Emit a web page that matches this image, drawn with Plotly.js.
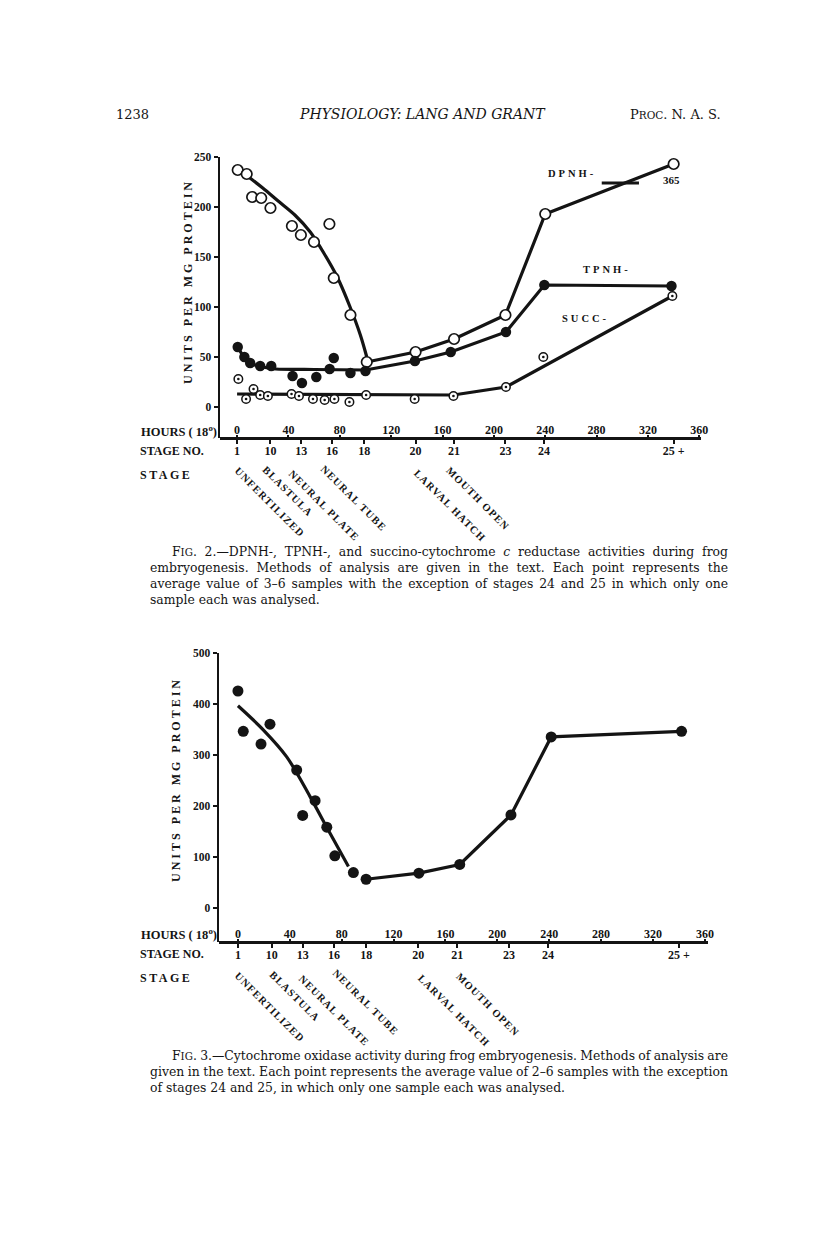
<!DOCTYPE html>
<html><head><meta charset="utf-8">
<script src="https://cdn.plot.ly/plotly-3.0.1.min.js"></script>
<style>html,body{margin:0;padding:0;background:#fff}</style>
</head><body><div id="chart" style="width:816px;height:1248px"></div>
<script>
// ---------- data ----------
const hourTicks = [0, 40, 80, 120, 160, 200, 240, 280, 320, 360];
const stageHours = [0, 26, 50, 74, 99, 139, 169, 209, 239, 340];
const stageNumbers = ['1', '10', '13', '16', '18', '20', '21', '23', '24', '25 +'];
const stageNames = ['UNFERTILIZED', 'BLASTULA', 'NEURAL PLATE', 'NEURAL TUBE', 'LARVAL HATCH', 'MOUTH OPEN'];

// Fig. 2
const dpnhHours  = [0.5, 7.5, 11.7, 18.8, 26, 42.7, 49.7, 59.9, 71.9, 75.3, 88.3, 101, 139, 169, 209, 240, 340];
const dpnhValues = [237, 233, 210, 209, 199, 181, 172, 165, 183, 129, 92, 45, 55, 68, 92, 193, 243];
const dpnhCurveHours  = [8, 20, 32, 45, 57, 68, 78, 88, 96, 101];
const dpnhCurveValues = [231, 219, 206, 192, 175, 153, 130, 100, 72, 50];
const dpnhSegHours  = [101, 139, 169, 209, 240, 340];
const dpnhSegValues = [45, 55, 68, 92, 193, 243];
const dpnhBreakHours  = [284, 313];
const dpnhBreakValues = [224, 224];

const tpnhHours  = [0.5, 5.7, 10.2, 18, 26.6, 43.2, 50.5, 61.7, 72.1, 75.3, 88.3, 100, 138.5, 166.4, 209.4, 239.3, 338.3];
const tpnhValues = [60, 50, 44, 41, 41, 31, 24, 30, 38, 49, 34, 36, 46, 55, 75, 122, 121];
const tpnhCurveHours  = [0.5, 6, 12, 20, 30, 60, 100];
const tpnhCurveValues = [60, 49, 43, 40, 38, 37.5, 37];
const tpnhSegHours  = [100, 138.5, 166.4, 209.4, 239.3, 338.3];
const tpnhSegValues = [37, 46, 55, 75, 122, 121];

const succHours  = [1, 7, 12.8, 18, 24, 42.4, 48.2, 59.1, 68.2, 75.8, 87.5, 100.5, 138.3, 168.5, 209.4, 238.5, 339];
const succValues = [28, 8, 18, 12, 11, 13, 11, 8, 7, 8, 5, 12, 8, 11, 20, 50, 111];
const succLineHours  = [0, 100, 168.5, 209.4, 339];
const succLineValues = [13, 12.5, 12, 20, 111];

// Fig. 3
const coxHours  = [0, 4.1, 17.8, 24.7, 45.3, 49.9, 59.5, 68.5, 74.7, 89, 98.8, 139.5, 171, 210.5, 241.5, 342];
const coxValues = [426, 347, 322, 361, 271, 182, 211, 159, 103, 70, 57, 69, 86, 183, 336, 347];
const coxCurveHours  = [0, 19.5, 37.6, 55.6, 71, 85.2];
const coxCurveValues = [397, 350, 297, 219, 147, 82];
const coxSegHours  = [98.8, 139.5, 171, 210.5, 241.5, 342];
const coxSegValues = [57, 69, 86, 183, 336, 347];

// ---------- style ----------
const INK = '#141414';
const SERIF = '"DejaVu Serif", "Liberation Serif", serif';
const BSERIF = '"Liberation Serif", "DejaVu Serif", serif';
const W = 816, H = 1248;
const LW = 3.2;

function lineTrace(x, y, xa, ya, shape) {
  return {x, y, xaxis: xa, yaxis: ya, type: 'scatter', mode: 'lines', hoverinfo: 'skip',
    line: {color: INK, width: LW, shape: shape || 'linear', smoothing: 0.9}, showlegend: false, cliponaxis: false};
}
function markerTrace(x, y, xa, ya, marker) {
  return {x, y, xaxis: xa, yaxis: ya, type: 'scatter', mode: 'markers', showlegend: false,
    marker, cliponaxis: false};
}
// carrier traces so that the stage-number axes are drawn
function stageCarrier(xa, ya) {
  return {x: stageHours, y: stageHours.map(() => null), xaxis: xa, yaxis: ya, type: 'scatter',
    mode: 'markers', marker: {opacity: 0}, hoverinfo: 'skip', showlegend: false};
}

const traces = [
  lineTrace(dpnhCurveHours, dpnhCurveValues, 'x', 'y', 'spline'),
  lineTrace(dpnhSegHours, dpnhSegValues, 'x', 'y'),
  lineTrace(dpnhBreakHours, dpnhBreakValues, 'x', 'y'),
  lineTrace(tpnhCurveHours, tpnhCurveValues, 'x', 'y', 'spline'),
  lineTrace(tpnhSegHours, tpnhSegValues, 'x', 'y'),
  lineTrace(succLineHours, succLineValues, 'x', 'y'),
  markerTrace(dpnhHours, dpnhValues, 'x', 'y', {symbol: 'circle', size: 10.5, color: '#fff', line: {color: INK, width: 1.7}}),
  markerTrace(tpnhHours, tpnhValues, 'x', 'y', {symbol: 'circle', size: 10.5, color: INK, line: {width: 0}}),
  markerTrace(succHours, succValues, 'x', 'y', {symbol: 'circle', size: 8.5, color: '#fff', line: {color: INK, width: 1.5}}),
  markerTrace(succHours, succValues, 'x', 'y', {symbol: 'circle', size: 2.6, color: INK, line: {width: 0}}),
  lineTrace(coxCurveHours, coxCurveValues, 'x2', 'y2', 'spline'),
  lineTrace(coxSegHours, coxSegValues, 'x2', 'y2'),
  markerTrace(coxHours, coxValues, 'x2', 'y2', {symbol: 'circle', size: 11, color: INK, line: {width: 0}}),
  stageCarrier('x3', 'y'),
  stageCarrier('x4', 'y2')
];

const tickFont = {family: BSERIF, size: 12, color: INK, weight: 'bold'};

function hoursAxis(domain, range, posPx) {
  return {domain, range, anchor: 'free', position: 1 - posPx / H, side: 'top',
    showline: true, linewidth: 2.5, linecolor: INK, mirror: false,
    ticks: 'outside', ticklen: 2, tickwidth: 2, tickcolor: INK, ticklabelstandoff: -4,
    tickvals: hourTicks, ticktext: hourTicks.map(String), tickfont: tickFont,
    showgrid: false, zeroline: false, fixedrange: true};
}
function stageAxis(over, anchor, range) {
  return {overlaying: over, anchor, side: 'bottom', range,
    showline: false, ticks: 'outside', ticklen: 5, tickwidth: 2, tickcolor: INK, ticklabelstandoff: -3,
    tickvals: stageHours, ticktext: stageNumbers, tickfont: tickFont,
    showgrid: false, zeroline: false, fixedrange: true};
}
function valueAxis(domain, range, tickvals, anchor) {
  return {domain, range, anchor, showline: true, linewidth: 2.5, linecolor: INK,
    ticks: 'outside', ticklen: 4, tickwidth: 2, tickcolor: INK,
    tickvals, ticktext: tickvals.map(String), tickfont: {family: BSERIF, size: 11.5, color: INK, weight: 'bold'},
    showgrid: false, zeroline: false, fixedrange: true};
}

const r1 = [-13.3, 361.3], r2 = [-14.6, 362.4];
const layout = {
  width: W, height: H, margin: {l: 0, r: 0, t: 0, b: 0},
  paper_bgcolor: '#fff', plot_bgcolor: 'rgba(0,0,0,0)', showlegend: false,
  xaxis: hoursAxis([220 / W, 701 / W], r1, 438),
  xaxis3: stageAxis('x', 'y', r1),
  yaxis: valueAxis([1 - 438 / H, 1 - 156.5 / H], [-31, 250.5], [0, 50, 100, 150, 200, 250], 'x'),
  xaxis2: hoursAxis([219 / W, 708 / W], r2, 942),
  xaxis4: stageAxis('x2', 'y2', r2),
  yaxis2: valueAxis([1 - 942 / H, 1 - 653 / H], [-66, 500.5], [0, 100, 200, 300, 400, 500], 'x2'),
  annotations: []
};

function A(text, x, y, o) {
  return Object.assign({text, x: x / W, y: 1 - y / H, xref: 'paper', yref: 'paper', showarrow: false,
    xanchor: 'center', yanchor: 'middle', font: {family: SERIF, size: 13, color: INK}}, o || {});
}
const bold = (s) => ({family: BSERIF, size: s, color: INK, weight: 'bold'});
const sp = (t, n) => '<span style="letter-spacing:' + n + 'px">' + t + '</span>';
const ann = layout.annotations;

// header
ann.push(A('1238', 114, 114, {xanchor: 'left'}));
ann.push(A('<i>PHYSIOLOGY: LANG AND GRANT</i>', 422, 114, {font: {family: SERIF, size: 14, color: INK}}));
ann.push(A('P<span style="font-size:10.5px">ROC</span>. N. A. S.', 723, 114, {xanchor: 'right'}));

function chartText(dy, yTitleX, yTitleY, stageCenters) {
  ann.push(A(sp('UNITS PER MG PROTEIN', 3), yTitleX, yTitleY, {textangle: -90, font: bold(12)}));
  ann.push(A('HOURS ( 18<sup>o</sup>)', 139, 431 + dy, {xanchor: 'left', font: bold(12.5)}));
  ann.push(A('STAGE NO.', 138, 451 + dy, {xanchor: 'left', font: bold(12)}));
  ann.push(A(sp('STAGE', 2.5), 138, 475 + dy, {xanchor: 'left', font: bold(12)}));
  stageNames.forEach((n, i) => {
    ann.push(A(sp(n, 1.2), stageCenters[i][0], stageCenters[i][1], {textangle: 45, font: bold(10.5)}));
  });
}
chartText(0, 188, 282, [[270, 502], [288, 491], [324, 505], [354, 498], [450, 505], [478, 498]]);
chartText(503, 176, 780, [[270, 1007], [295, 996], [334, 1010], [366, 1002], [454, 1010], [488, 1004]]);

// series labels Fig. 2
ann.push(A(sp('DPNH-', 3), 572, 174, {font: bold(10.5)}));
ann.push(A('365', 671, 180, {font: bold(11)}));
ann.push(A(sp('TPNH-', 3), 607, 269, {font: bold(10.5)}));
ann.push(A(sp('SUCC-', 3), 585, 318, {font: bold(10.5)}));

// captions (justified lines get a target width)
const cap1 = [
  'F<span style="font-size:10.3px">IG</span>. 2.—DPNH-, TPNH-, and succino-cytochrome <i>c</i> reductase activities during frog',
  'embryogenesis. Methods of analysis are given in the text. Each point represents the',
  'average value of 3–6 samples with the exception of stages 24 and 25 in which only one',
  'sample each was analysed.'
];
const cap2 = [
  'F<span style="font-size:10.3px">IG</span>. 3.—Cytochrome oxidase activity during frog embryogenesis. Methods of analysis are',
  'given in the text. Each point represents the average value of 2–6 samples with the exception',
  'of stages 24 and 25, in which only one sample each was analysed.'
];
const justify = [];
function caption(lines, y0) {
  lines.forEach((t, i) => {
    const x0 = i === 0 ? 170 : 148;
    if (i < lines.length - 1) justify.push({idx: ann.length, width: 726 - x0});
    ann.push(A(t, x0, y0 + 16 * i, {xanchor: 'left', align: 'left', font: {family: SERIF, size: 12.4, color: INK}}));
  });
}
caption(cap1, 551);
caption(cap2, 1055);

Plotly.newPlot('chart', traces, layout, {staticPlot: true, displayModeBar: false}).then(gd => {
  const groups = Array.from(gd.querySelectorAll('g.annotation'));
  justify.forEach(j => {
    const g = groups.find(el => el.getAttribute('data-index') === String(j.idx));
    if (!g) return;
    const t = g.querySelector('text.annotation-text');
    if (!t) return;
    const w = t.getBBox().width;
    const spaces = (t.textContent.trim().match(/\s/g) || []).length;
    if (spaces > 0) t.style.wordSpacing = ((j.width - w) / spaces).toFixed(2) + 'px';
  });
});
</script></body></html>
